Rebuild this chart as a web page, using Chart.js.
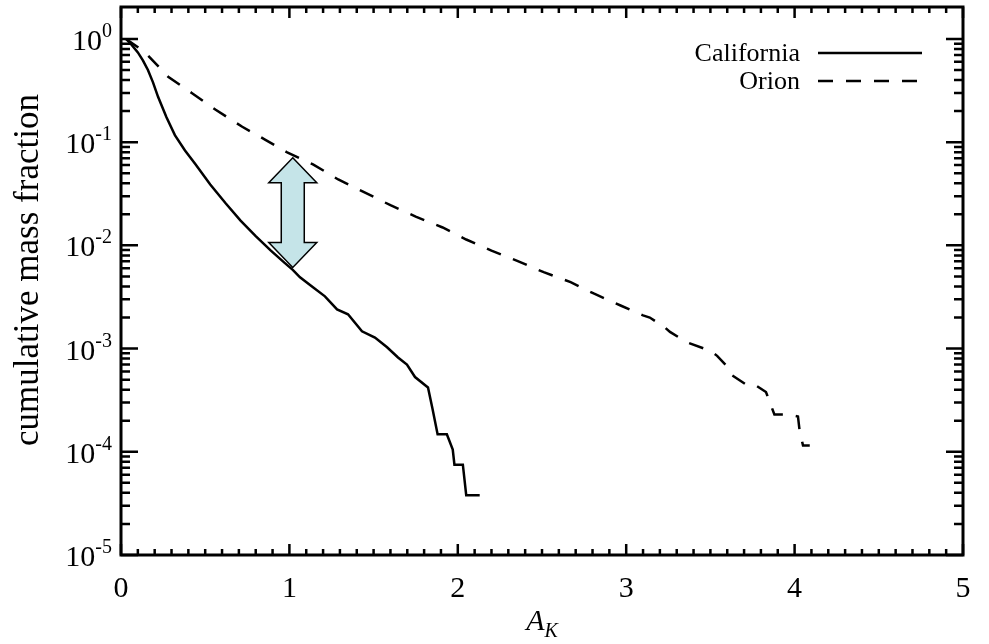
<!DOCTYPE html>
<html>
<head>
<meta charset="utf-8">
<script src="https://cdn.jsdelivr.net/npm/chart.js@4/dist/chart.umd.min.js"></script>
<style>
html,body{margin:0;padding:0;background:#fff;}
canvas{display:block;}
</style>
</head>
<body>
<canvas id="cmf" width="989" height="644"></canvas>
<script>
// cumulative mass fraction vs A_K, California vs Orion
const caliX=[0.03,0.06,0.10,0.13,0.16,0.19,0.22,0.27,0.32,0.38,0.44,0.53,0.62,0.71,0.80,0.89,0.97,1.02,1.063,1.14,1.211,1.283,1.348,1.431,1.508,1.58,1.645,1.698,1.746,1.823,1.85,1.88,1.935,1.97,1.98,2.03,2.05,2.13];
const caliY=[1.0,0.89,0.74,0.62,0.50,0.38,0.275,0.174,0.117,0.083,0.0617,0.0389,0.0257,0.0174,0.0123,0.0089,0.0068,0.0058,0.0049,0.00393,0.00321,0.0024,0.00215,0.00147,0.00128,0.00103,0.00082,0.0007,0.00053,0.00042,0.00026,0.000148,0.000148,0.000105,7.5e-5,7.5e-5,3.8e-5,3.8e-5];

const orionX=[0.03,0.14,0.28,0.42,0.56,0.72,0.855,0.99,1.14,1.29,1.44,1.60,1.75,1.91,2.05,2.20,2.36,2.51,2.67,2.81,2.97,3.10,3.14,3.23,3.26,3.36,3.50,3.54,3.60,3.63,3.71,3.76,3.83,3.85,3.88,3.96,4.02,4.03,4.05,4.09];
const orionY=[1.0,0.75,0.43,0.30,0.207,0.141,0.106,0.079,0.061,0.0435,0.033,0.0245,0.019,0.0149,0.0114,0.0089,0.0070,0.0055,0.0044,0.0034,0.0026,0.0021,0.0020,0.0016,0.00145,0.00115,0.00095,0.00085,0.00067,0.00055,0.00045,0.00045,0.00038,0.00031,0.00023,0.00023,0.00022,0.000159,0.000115,0.000115];

const seriesNames=["California","Orion"];
const xTicks=[0,1,2,3,4,5];
const yTicks=[1,1e-1,1e-2,1e-3,1e-4,1e-5];
const arrowX=1.02, arrowSpan=[0.0705,0.0061];   // the shaded double arrow
const xTitle="A", xTitleSub="K", yTitle="cumulative mass fraction";

const pts=(xs,ys)=>xs.map((x,i)=>({x,y:ys[i]}));
const SERIF='"Liberation Serif","Times New Roman",Times,serif';

function arrowPath(ctx,x,y1,y2){
  const hw=24,sw=11.5,hh=25;
  ctx.beginPath();
  ctx.moveTo(x,y1);ctx.lineTo(x+hw,y1+hh);ctx.lineTo(x+sw,y1+hh);
  ctx.lineTo(x+sw,y2-hh);ctx.lineTo(x+hw,y2-hh);ctx.lineTo(x,y2);
  ctx.lineTo(x-hw,y2-hh);ctx.lineTo(x-sw,y2-hh);ctx.lineTo(x-sw,y1+hh);
  ctx.lineTo(x-hw,y1+hh);ctx.closePath();
}

const decor={
  id:"decor",
  afterDatasetsDraw(chart){
    const {ctx,chartArea:a,scales:{x,y}}=chart;
    ctx.save();
    // arrow
    arrowPath(ctx,x.getPixelForValue(arrowX),y.getPixelForValue(arrowSpan[0]),y.getPixelForValue(arrowSpan[1]));
    ctx.fillStyle="#c5e4e8";ctx.fill();
    ctx.lineWidth=1.5;ctx.strokeStyle="#000";ctx.stroke();

    // frame
    ctx.lineWidth=3;ctx.strokeStyle="#000";
    ctx.strokeRect(a.left,a.top,a.right-a.left,a.bottom-a.top);

    // x ticks (inward, bottom & top)
    ctx.lineWidth=2.5;
    for(let i=0;i<=50;i++){
      const v=i/10,px=x.getPixelForValue(v),len=(i%10===0)?11:6;
      ctx.beginPath();ctx.moveTo(px,a.bottom);ctx.lineTo(px,a.bottom-len);
      ctx.moveTo(px,a.top);ctx.lineTo(px,a.top+len);ctx.stroke();
    }
    // y ticks (inward, left & right)
    yTicks.forEach(t=>{
      for(let m=1;m<=9;m++){
        const v=t*m;if(v>1||(t===1&&m>1))continue;
        const py=y.getPixelForValue(v),len=m===1?17:9;
        ctx.beginPath();ctx.moveTo(a.left,py);ctx.lineTo(a.left+len,py);
        ctx.moveTo(a.right,py);ctx.lineTo(a.right-len,py);ctx.stroke();
      }
    });

    ctx.fillStyle="#000";
    // x tick labels
    ctx.font="30px "+SERIF;ctx.textAlign="center";ctx.textBaseline="alphabetic";
    xTicks.forEach(v=>ctx.fillText(String(v),x.getPixelForValue(v),597));
    // y tick labels 10^n
    yTicks.forEach(v=>{
      const py=y.getPixelForValue(v),e=String(Math.round(Math.log10(v)));
      ctx.font="20px "+SERIF;ctx.textAlign="right";
      const ew=ctx.measureText(e).width;
      ctx.fillText(e,112,py-2);
      ctx.font="30px "+SERIF;
      ctx.fillText("10",112-ew,py+11);
    });

    // axis titles
    ctx.font="italic 30px "+SERIF;ctx.textAlign="left";
    const aw=ctx.measureText(xTitle).width;
    ctx.font="italic 20px "+SERIF;
    const kw=ctx.measureText(xTitleSub).width;
    const cx=(a.left+a.right)/2,sx=cx-(aw+kw)/2;
    ctx.font="italic 30px "+SERIF;ctx.fillText(xTitle,sx,630);
    ctx.font="italic 20px "+SERIF;ctx.fillText(xTitleSub,sx+aw,637);

    ctx.save();
    ctx.translate(38,(a.top+a.bottom)/2-11);ctx.rotate(-Math.PI/2);
    ctx.font="35px "+SERIF;ctx.textAlign="center";ctx.textBaseline="alphabetic";
    ctx.fillText(yTitle,0,0);
    ctx.restore();

    // legend
    ctx.font="26px "+SERIF;ctx.textAlign="right";ctx.textBaseline="middle";
    chart.data.datasets.forEach((ds,i)=>{
      const ly=53+i*28;
      ctx.fillText(ds.label,800,ly+1);
      ctx.lineWidth=2.5;ctx.setLineDash(ds.borderDash||[]);
      ctx.beginPath();ctx.moveTo(818,ly);ctx.lineTo(922,ly);ctx.stroke();
      ctx.setLineDash([]);
    });
    ctx.restore();
  }
};

new Chart(document.getElementById("cmf"),{
  type:"line",
  data:{datasets:[
    {label:seriesNames[0],data:pts(caliX,caliY),borderColor:"#000",borderWidth:2.5,pointRadius:0,tension:0},
    {label:seriesNames[1],data:pts(orionX,orionY),borderColor:"#000",borderWidth:2.5,borderDash:[15,13],pointRadius:0,tension:0}
  ]},
  options:{
    responsive:false,animation:false,devicePixelRatio:1,
    layout:{padding:{left:121,right:26,top:7,bottom:89}},
    scales:{
      x:{type:"linear",min:0,max:5,display:false},
      y:{type:"logarithmic",min:1e-5,max:2.04,display:false}
    },
    plugins:{legend:{display:false},tooltip:{enabled:false}}
  },
  plugins:[decor]
});
</script>
</body>
</html>
